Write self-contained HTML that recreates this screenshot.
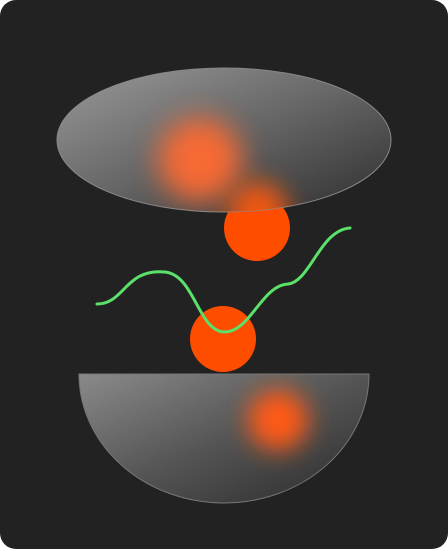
<!DOCTYPE html>
<html><head><meta charset="utf-8"><style>
html,body{margin:0;padding:0;background:#fff;width:448px;height:549px;overflow:hidden}
</style></head><body>
<svg width="448" height="549" viewBox="0 0 448 549">
<defs>
<linearGradient id="g1" x1="0" y1="0" x2="1" y2="1">
<stop offset="0" stop-color="#9a9a9a"/><stop offset="0.5" stop-color="#666"/><stop offset="1" stop-color="#2e2e2e"/>
</linearGradient>
<linearGradient id="g2" x1="0" y1="0" x2="1" y2="1">
<stop offset="0" stop-color="#8a8a8a"/><stop offset="0.5" stop-color="#555"/><stop offset="1" stop-color="#2a2a2a"/>
</linearGradient>
<filter id="b1" x="-1" y="-1" width="3" height="3"><feGaussianBlur stdDeviation="14"/></filter>
<filter id="b2" x="-1" y="-1" width="3" height="3"><feGaussianBlur stdDeviation="12"/></filter>
<clipPath id="c1"><ellipse cx="224" cy="140" rx="167" ry="72"/></clipPath>
<clipPath id="c2"><path d="M79 374 H369 A145 129 0 0 1 79 374 Z"/></clipPath>
</defs>
<rect width="448" height="549" rx="16" fill="#222"/>
<circle cx="257" cy="228" r="33" fill="#ff4d00"/>
<g>
<ellipse cx="224" cy="140" rx="167" ry="72" fill="url(#g1)" stroke="#888" stroke-width="1"/>
<g clip-path="url(#c1)">
<circle cx="200" cy="160" r="42" fill="#ff6a30" filter="url(#b1)" opacity="0.95"/>
<circle cx="258" cy="212" r="30" fill="#ff5a10" filter="url(#b2)" opacity="0.9"/>
</g>
</g>
<circle cx="223" cy="339" r="33" fill="#ff4d00"/>
<path d="M97 304 C125 304 125 268 165 272 C195 275 198 332 225 332 C250 332 262 285 288 284 C310 282 320 230 350 228" fill="none" stroke="#5be06a" stroke-width="3" stroke-linecap="round"/>
<g>
<path d="M79 374 H369 A145 129 0 0 1 79 374 Z" fill="url(#g2)" stroke="#777" stroke-width="1"/>
<g clip-path="url(#c2)">
<circle cx="278" cy="420" r="30" fill="#ff5a15" filter="url(#b2)"/>
</g>
</g>
</svg>
</body></html>
